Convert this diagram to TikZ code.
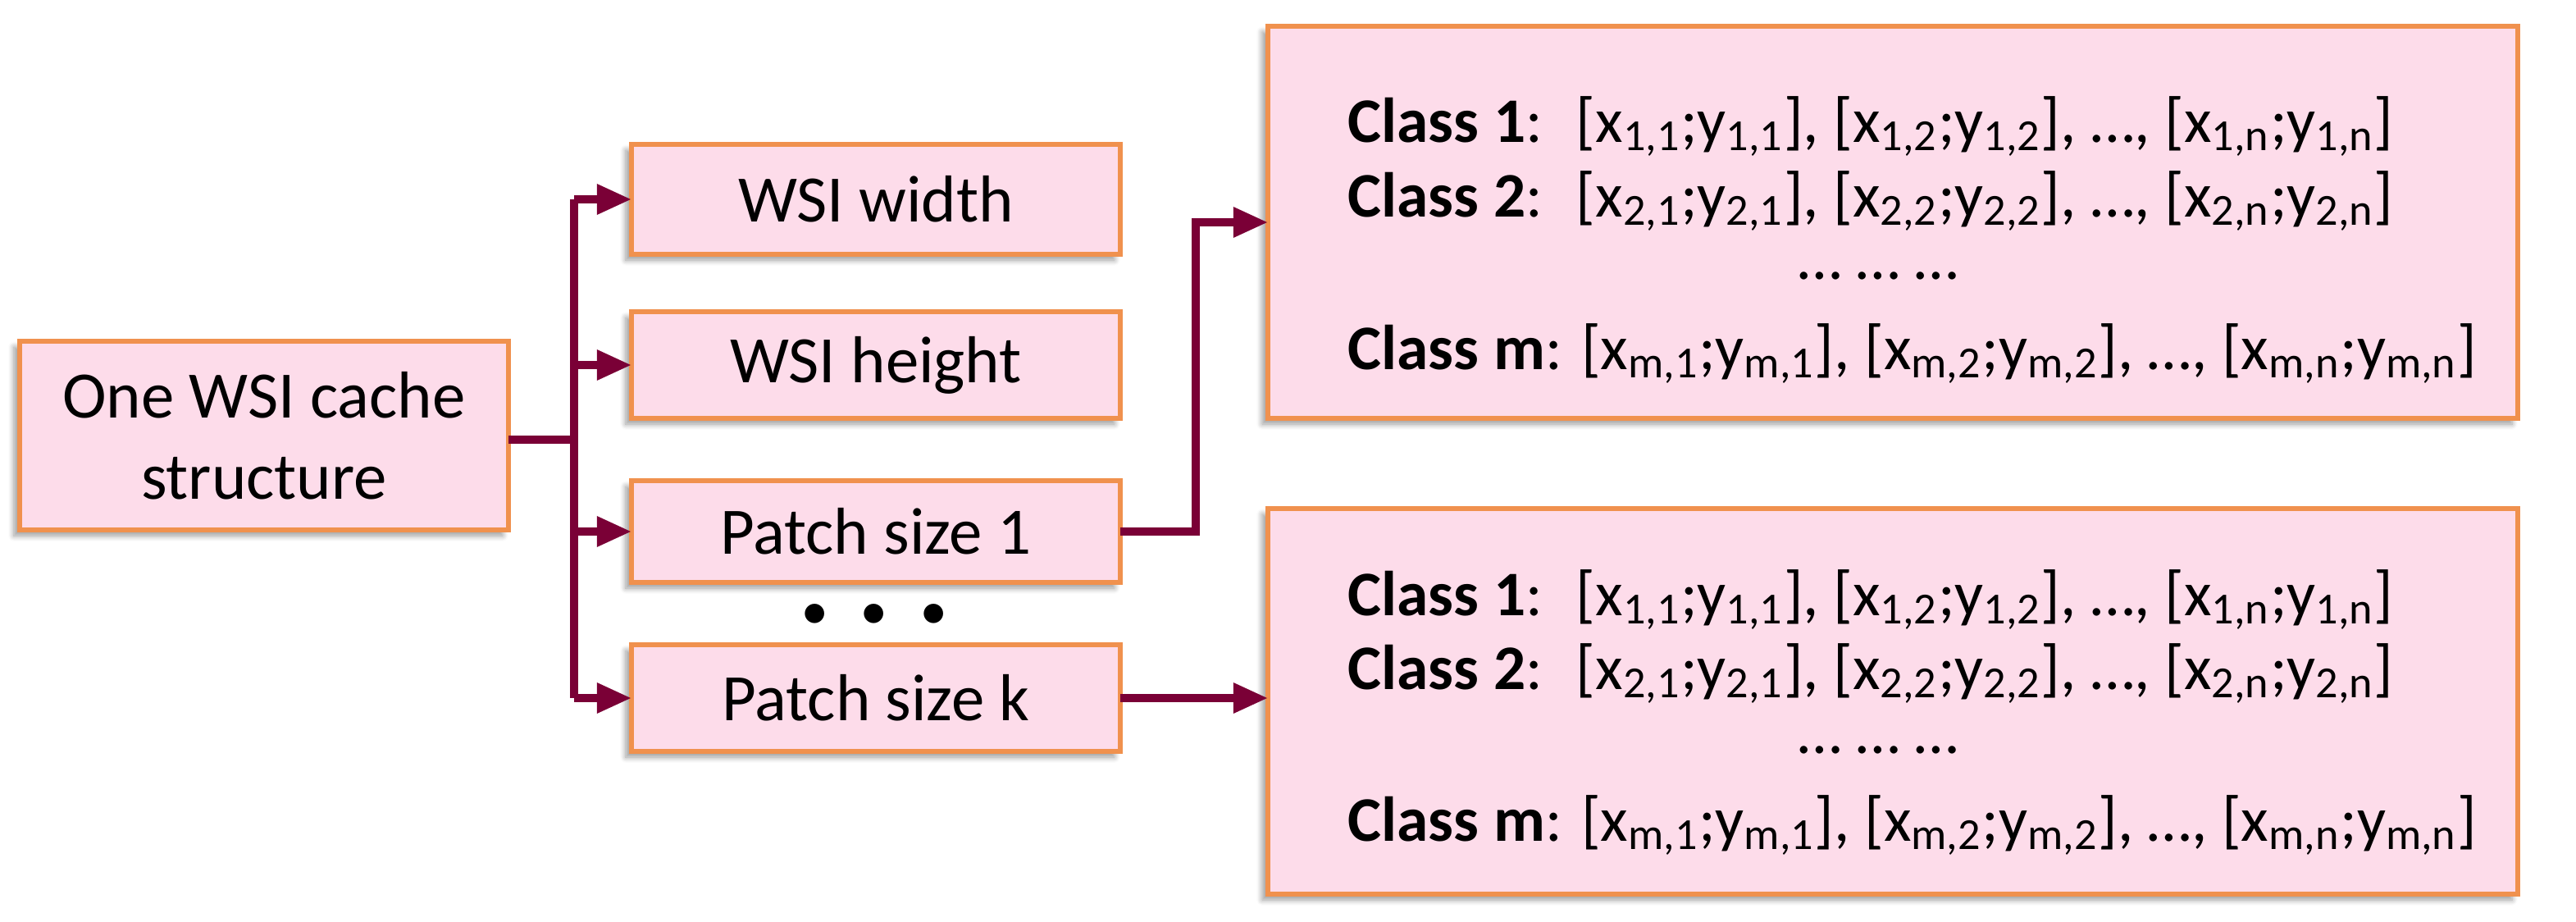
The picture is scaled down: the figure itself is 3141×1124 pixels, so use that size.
\documentclass[tikz,border=0pt]{standalone}
\usepackage{fontspec}
\setmainfont{Carlito}
\usetikzlibrary{shadows.blur,arrows.meta}
\definecolor{boxfill}{HTML}{FDDCEA}
\definecolor{boxline}{HTML}{F0914E}
\definecolor{arr}{HTML}{7A0036}
\tikzset{
  box/.style={draw=boxline,line width=1.5pt,fill=boxfill,blur shadow={shadow xshift=-2pt,shadow yshift=-2pt,shadow blur steps=6,shadow opacity=40},inner sep=0pt},
  lbl/.style={font=\fontsize{23}{28}\selectfont,align=center},
  cls/.style={font=\fontsize{22}{27}\selectfont,anchor=base west,inner sep=0pt},
  con/.style={draw=arr,line width=2.6pt,-{Triangle[length=12pt,width=10pt]}},
  ln/.style={draw=arr,line width=2.6pt}
}
\newcommand{\xs}[2]{[x\textsubscript{#1};y\textsubscript{#2}]}
\begin{document}
\begin{tikzpicture}[x=0.01cm,y=-0.01cm]
\useasboundingbox (0,0) rectangle (3141,1124);
% left box
\draw[box] (24,416) rectangle (620,646);
\node[lbl] (root) at (322,531) {One WSI cache\\structure};
\coordinate (rootE) at (620,536);
% small boxes
\draw[box] (770,176) rectangle (1366,310);
\node[lbl] (w) at (1068,243) {WSI width};
\draw[box] (770,380) rectangle (1366,510);
\node[lbl] (h) at (1068,445) {WSI height};
\draw[box] (770,586) rectangle (1366,710);
\node[lbl] (p1) at (1068,648) {Patch size 1};
\draw[box] (770,786) rectangle (1366,916);
\node[lbl] (pk) at (1068,851) {Patch size k};
\node[font=\fontsize{16}{16}\selectfont,inner sep=0pt] (dots) at (1066,750) {$\bullet$\hspace{0.75em}$\bullet$\hspace{0.75em}$\bullet$};
% big boxes
\draw[box] (1546,32) rectangle (3070,510);
\draw[box] (1546,620) rectangle (3070,1090);
\coordinate (b1W) at (1546,271);
\coordinate (b2W) at (1546,851);
\coordinate (wW) at (770,243);
\coordinate (hW) at (770,445);
\coordinate (p1W) at (770,648);
\coordinate (pkW) at (770,851);
\coordinate (p1E) at (1366,648);
\coordinate (pkE) at (1366,851);
\coordinate (t) at (700,536);
\coordinate (tt) at (700,243);
\coordinate (tb) at (700,851);
% connectors
\draw[ln] (rootE) -- (t);
\draw[ln] (tt) -- (tb);
\draw[con] (tt) -- (wW);
\draw[con] (700,445) -- (hW);
\draw[con] (700,648) -- (p1W);
\draw[con] (tb) -- (pkW);
\draw[con] (p1E) -- (1458,648) -- (1458,271) -- (b1W);
\draw[con] (pkE) -- (b2W);
% texts
\node[cls] (c1a) at (1643,173) {\textbf{Class 1}:~ \xs{1,1}{1,1}, \xs{1,2}{1,2}, …, \xs{1,n}{1,n}};
\node[cls] (c2a) at (1643,264) {\textbf{Class 2}:~ \xs{2,1}{2,1}, \xs{2,2}{2,2}, …, \xs{2,n}{2,n}};
\node[cls,anchor=base] (cda) at (2290,340) {… … …};
\node[cls] (cma) at (1643,450) {\textbf{Class m}: \xs{m,1}{m,1}, \xs{m,2}{m,2}, …, \xs{m,n}{m,n}};
\node[cls] (c1b) at (1643,750) {\textbf{Class 1}:~ \xs{1,1}{1,1}, \xs{1,2}{1,2}, …, \xs{1,n}{1,n}};
\node[cls] (c2b) at (1643,840) {\textbf{Class 2}:~ \xs{2,1}{2,1}, \xs{2,2}{2,2}, …, \xs{2,n}{2,n}};
\node[cls,anchor=base] (cdb) at (2290,918) {… … …};
\node[cls] (cmb) at (1643,1025) {\textbf{Class m}: \xs{m,1}{m,1}, \xs{m,2}{m,2}, …, \xs{m,n}{m,n}};
\end{tikzpicture}
\end{document}
